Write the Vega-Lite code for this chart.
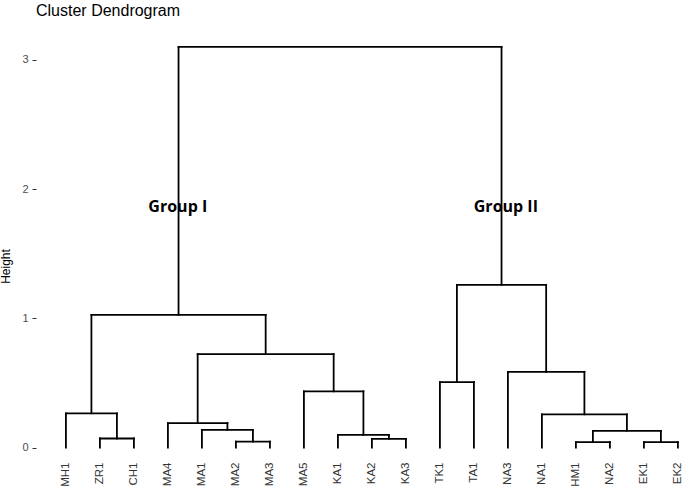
{
  "$schema": "https://vega.github.io/schema/vega-lite/v6.json",
  "width": 648.7,
  "height": 420,
  "autosize": "none",
  "padding": {"left": 36, "top": 34, "right": 0.3, "bottom": 37},
  "background": "white",
  "title": {"text": "Cluster Dendrogram", "anchor": "start", "frame": "group", "font": "Liberation Sans", "fontSize": 16, "fontWeight": "normal", "color": "black", "offset": 15},
  "config": {
    "view": {"stroke": null},
    "axis": {"labelOverlap": false},
    "axisX": {"labelAngle": 270, "labelAlign": "right", "labelBaseline": "middle", "ticks": false, "domain": false, "grid": false, "labelPadding": 8, "labelFont": "Liberation Sans", "labelFontSize": 11.5, "labelColor": "#333333", "labelOverlap": false},
    "axisY": {"domain": false, "grid": false, "ticks": true, "tickSize": 4, "tickColor": "#333333", "tickWidth": 1, "labelPadding": 4, "labelFont": "Liberation Sans", "labelFontSize": 11, "labelColor": "#4d4d4d", "titleFont": "Liberation Sans", "titleFontSize": 12, "titleFontWeight": "normal", "titleColor": "black"}
  },
  "datasets": {
    "merges": [
      {"xl": 2, "xr": 3, "yl": 0, "yr": 0, "h": 0.07},
      {"xl": 1, "xr": 2.5, "yl": 0, "yr": 0.07, "h": 0.265},
      {"xl": 6, "xr": 7, "yl": 0, "yr": 0, "h": 0.046},
      {"xl": 5, "xr": 6.5, "yl": 0, "yr": 0.046, "h": 0.137},
      {"xl": 4, "xr": 5.75, "yl": 0, "yr": 0.137, "h": 0.189},
      {"xl": 10, "xr": 11, "yl": 0, "yr": 0, "h": 0.067},
      {"xl": 9, "xr": 10.5, "yl": 0, "yr": 0.067, "h": 0.098},
      {"xl": 8, "xr": 9.75, "yl": 0, "yr": 0.098, "h": 0.435},
      {"xl": 4.875, "xr": 8.875, "yl": 0.189, "yr": 0.435, "h": 0.723},
      {"xl": 1.75, "xr": 6.875, "yl": 0.265, "yr": 0.723, "h": 1.026},
      {"xl": 12, "xr": 13, "yl": 0, "yr": 0, "h": 0.506},
      {"xl": 16, "xr": 17, "yl": 0, "yr": 0, "h": 0.042},
      {"xl": 18, "xr": 19, "yl": 0, "yr": 0, "h": 0.042},
      {"xl": 16.5, "xr": 18.5, "yl": 0.042, "yr": 0.042, "h": 0.129},
      {"xl": 15, "xr": 17.5, "yl": 0, "yr": 0.129, "h": 0.257},
      {"xl": 14, "xr": 16.25, "yl": 0, "yr": 0.257, "h": 0.586},
      {"xl": 12.5, "xr": 15.125, "yl": 0.506, "yr": 0.586, "h": 1.259},
      {"xl": 4.3125, "xr": 13.8125, "yl": 1.026, "yr": 1.259, "h": 3.1}
    ],
    "groups": [
      {"label": "Group I", "gx": 4.29, "gy": 1.86},
      {"label": "Group II", "gx": 13.94, "gy": 1.86}
    ]
  },
  "encoding": {
    "x": {"type": "quantitative", "scale": {"domain": [0.12, 19.2], "nice": false, "zero": false},
          "axis": {"values": [1,2,3,4,5,6,7,8,9,10,11,12,13,14,15,16,17,18,19], "labelExpr": "['MH1','ZR1','CH1','MA4','MA1','MA2','MA3','MA5','KA1','KA2','KA3','TK1','TA1','NA3','NA1','HM1','NA2','EK1','EK2'][datum.value-1]", "labelOverlap": false, "labelBound": false, "labelFlush": false, "title": null}},
    "y": {"type": "quantitative", "scale": {"domain": [-0.05, 3.2], "nice": false, "zero": false},
          "axis": {"values": [0,1,2,3], "format": "d", "title": "Height", "titleX": -24, "titleY": 232}}
  },
  "layer": [
    {
      "data": {"name": "groups"},
      "mark": {"type": "text", "font": "Open Sans", "fontWeight": "bold", "fontSize": 16, "color": "black", "align": "center", "baseline": "middle"},
      "encoding": {
        "x": {"field": "gx"},
        "y": {"field": "gy"},
        "text": {"field": "label"}
      }
    },
    {
      "data": {"name": "merges"},
      "mark": {"type": "rule", "color": "black", "strokeWidth": 1.8, "strokeCap": "square"},
      "encoding": {
        "x": {"field": "xl"},
        "y": {"field": "yl"},
        "y2": {"field": "h"}
      }
    },
    {
      "data": {"name": "merges"},
      "mark": {"type": "rule", "color": "black", "strokeWidth": 1.8, "strokeCap": "square"},
      "encoding": {
        "x": {"field": "xr"},
        "y": {"field": "yr"},
        "y2": {"field": "h"}
      }
    },
    {
      "data": {"name": "merges"},
      "mark": {"type": "rule", "color": "black", "strokeWidth": 1.8, "strokeCap": "square"},
      "encoding": {
        "x": {"field": "xl"},
        "x2": {"field": "xr"},
        "y": {"field": "h"}
      }
    }
  ]
}
